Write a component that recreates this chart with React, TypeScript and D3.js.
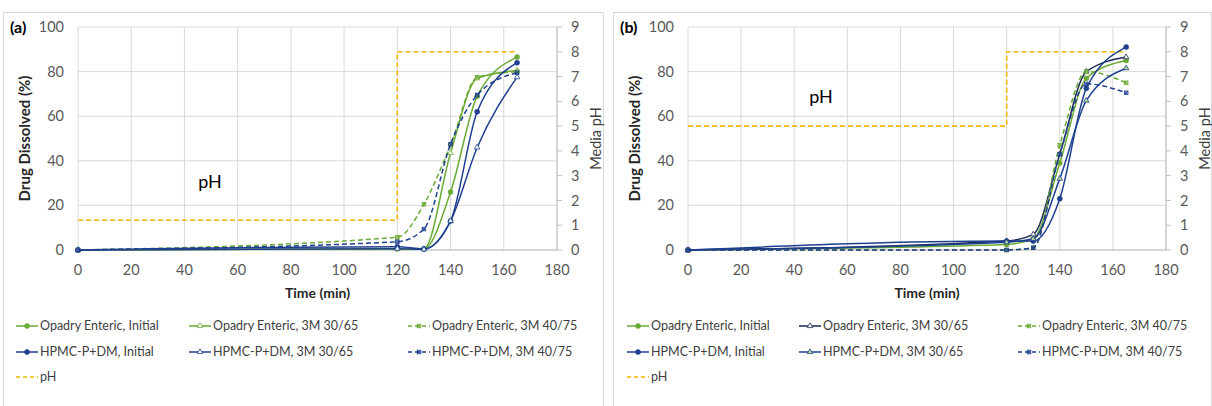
import React from "react";
import * as d3 from "d3";

// ---------- data ----------
const times = [0, 120, 130, 140, 150, 165];
const xTicks = [0, 20, 40, 60, 80, 100, 120, 140, 160, 180];
const yTicks = [0, 20, 40, 60, 80, 100];
const phTicks = [0, 1, 2, 3, 4, 5, 6, 7, 8, 9];

const seriesLabels = [
  "Opadry Enteric, Initial",
  "Opadry Enteric, 3M 30/65",
  "Opadry Enteric, 3M 40/75",
  "HPMC-P+DM, Initial",
  "HPMC-P+DM, 3M 30/65",
  "HPMC-P+DM, 3M 40/75",
];

// Panel (a)
const aOpadryInitial = [0, 0.5, 0.5, 26, 69, 86.5];
const aOpadry3065 = [0, 0.5, 0.5, 43.5, 77, 80.5];
const aOpadry4075 = [0, 5.7, 20.5, 47, 77.5, 80];
const aHpmcInitial = [0, 1.5, 0.5, 13, 62, 84];
const aHpmc3065 = [0, 0.6, 0.3, 13, 46, 77.5];
const aHpmc4075 = [0, 3.7, 9.4, 47.5, 69.5, 79.5];
const phTimes = [0, 120, 120, 165];
const aPh = [1.2, 1.2, 8, 8];

// Panel (b)
const bOpadryInitial = [0, 2.5, 5, 39, 77, 85];
const bOpadry3065 = [0, 4, 7, 43, 80, 86.5];
const bOpadry4075 = [0, 0, 1, 47, 80, 75];
const bHpmcInitial = [0, 4, 4, 23, 72.5, 91];
const bHpmc3065 = [0, 3.5, 5, 32, 67, 81.5];
const bHpmc4075 = [0, 0, 1, 43, 74.5, 70.5];
const bPh = [5, 5, 8, 8];

// ---------- styles ----------
const GREEN = "#6BAA35";
const BLUE = "#1F3F8F";
const NAVY = "#1B2A55";
const GOLD = "#F2B705";
const GRID = "#D9D9D9";
const TXT = "#595959";
const FONT = "Lato, 'Open Sans', sans-serif";

type MarkerKind = "dot" | "tri" | "x";
interface SeriesStyle {
  color: string;
  dashed: boolean;
  marker: MarkerKind;
  markerFill: string;
}

const stylesA: SeriesStyle[] = [
  { color: GREEN, dashed: false, marker: "dot", markerFill: GREEN },
  { color: GREEN, dashed: false, marker: "tri", markerFill: "#fff" },
  { color: GREEN, dashed: true, marker: "x", markerFill: GREEN },
  { color: BLUE, dashed: false, marker: "dot", markerFill: BLUE },
  { color: BLUE, dashed: false, marker: "tri", markerFill: "#fff" },
  { color: BLUE, dashed: true, marker: "x", markerFill: BLUE },
];
const stylesB: SeriesStyle[] = [
  { color: GREEN, dashed: false, marker: "dot", markerFill: GREEN },
  { color: NAVY, dashed: false, marker: "tri", markerFill: "#fff" },
  { color: GREEN, dashed: true, marker: "x", markerFill: GREEN },
  { color: BLUE, dashed: false, marker: "dot", markerFill: BLUE },
  { color: BLUE, dashed: false, marker: "tri", markerFill: "#B7D99A" },
  { color: BLUE, dashed: true, marker: "x", markerFill: BLUE },
];

function Marker({ kind, x, y, color, fill }: { kind: MarkerKind; x: number; y: number; color: string; fill: string }) {
  if (kind === "dot") return <circle cx={x} cy={y} r={2.5} fill={fill} stroke={color} strokeWidth={0.6} />;
  if (kind === "tri") {
    const p = d3.symbol(d3.symbolTriangle, 13)();
    return <path d={p || ""} transform={`translate(${x},${y})`} fill={fill} stroke={color} strokeWidth={0.8} />;
  }
  return (
    <g transform={`translate(${x},${y})`}>
      <rect x={-1.8} y={-1.8} width={3.6} height={3.6} fill={fill} fillOpacity={0.35} stroke={color} strokeWidth={0.8} />
      <path d="M-1.8,-1.8L1.8,1.8M-1.8,1.8L1.8,-1.8" stroke={color} strokeWidth={0.8} />
    </g>
  );
}

interface PanelProps {
  tag: string;
  boxX: number;
  boxW: number;
  plotL: number;
  plotR: number;
  data: number[][];
  ph: number[];
  styles: SeriesStyle[];
  phLabel: [number, number];
  legendCols: number[];
}

const plotT = 27;
const plotB = 250;

function Panel(p: PanelProps) {
  const x = d3.scaleLinear().domain([0, 180]).range([p.plotL, p.plotR]);
  const y = d3.scaleLinear().domain([0, 100]).range([plotB, plotT]);
  const yPh = d3.scaleLinear().domain([0, 9]).range([plotB, plotT]);
  const line = d3
    .line<number>()
    .x((_, i) => x(times[i]))
    .y((v) => y(v))
    .curve(d3.curveMonotoneX);
  const phLine = d3
    .line<number>()
    .x((_, i) => x(phTimes[i]))
    .y((v) => yPh(v));
  const cx = (p.plotL + p.plotR) / 2;
  const cy = (plotT + plotB) / 2;
  const rowY = [326, 352, 377];

  return (
    <g fontFamily={FONT}>
      <rect x={p.boxX + 0.5} y={12.5} width={p.boxW} height={410} fill="#fff" stroke={GRID} strokeWidth={1} />
      {/* grid */}
      {xTicks.map((t) => (
        <line key={"gx" + t} x1={x(t)} x2={x(t)} y1={plotT} y2={plotB} stroke={GRID} strokeWidth={1} />
      ))}
      {yTicks.map((t) => (
        <line key={"gy" + t} x1={p.plotL} x2={p.plotR} y1={y(t)} y2={y(t)} stroke={GRID} strokeWidth={1} />
      ))}
      {/* axes */}
      <line x1={p.plotL} x2={p.plotR} y1={plotB} y2={plotB} stroke="#BFBFBF" />
      <line x1={p.plotR} x2={p.plotR} y1={plotT} y2={plotB} stroke="#BFBFBF" />
      {phTicks.map((t) => (
        <line key={"pt" + t} x1={p.plotR} x2={p.plotR + 5} y1={yPh(t)} y2={yPh(t)} stroke="#BFBFBF" />
      ))}
      {/* tick labels */}
      {yTicks.map((t) => (
        <text key={"yl" + t} x={p.plotL - 14} y={y(t)} dy="0.35em" textAnchor="end" fontSize={14.5} fill={TXT}>
          {t}
        </text>
      ))}
      {phTicks.map((t) => (
        <text key={"pl" + t} x={p.plotR + 14} y={yPh(t)} dy="0.35em" textAnchor="start" fontSize={14.5} fill={TXT}>
          {t}
        </text>
      ))}
      {xTicks.map((t) => (
        <text key={"xl" + t} x={x(t)} y={plotB + 20} dy="0.35em" textAnchor="middle" fontSize={14.5} fill={TXT}>
          {t}
        </text>
      ))}
      {/* titles */}
      <text x={p.boxX + 7} y={33} fontSize={16} fontWeight="bold" fill="#000">
        {p.tag}
      </text>
      <text
        transform={`translate(${p.boxX + 27},${cy}) rotate(-90)`}
        textAnchor="middle"
        fontSize={15}
        fontWeight="bold"
        fill="#262626"
      >
        Drug Dissolved (%)
      </text>
      <text
        transform={`translate(${p.plotR + 39},${cy}) rotate(-90)`}
        textAnchor="middle"
        dy="0.35em"
        fontSize={14.5}
        fill="#404040"
      >
        Media pH
      </text>
      <text x={cx} y={298} textAnchor="middle" fontSize={14} fontWeight="bold" fill="#262626">
        Time (min)
      </text>
      <text x={p.phLabel[0]} y={p.phLabel[1]} textAnchor="middle" dy="0.35em" fontSize={18} fill="#000">
        pH
      </text>
      {/* pH line */}
      <path d={phLine(p.ph) || ""} fill="none" stroke={GOLD} strokeWidth={1.6} strokeDasharray="5,3" />
      {/* series */}
      {p.data.map((vals, si) => {
        const s = p.styles[si];
        return (
          <g key={"s" + si}>
            <path
              d={line(vals) || ""}
              fill="none"
              stroke={s.color}
              strokeWidth={1.5}
              strokeDasharray={s.dashed ? "5,3" : undefined}
            />
            {vals.map((v, i) => (
              <Marker key={i} kind={s.marker} x={x(times[i])} y={y(v)} color={s.color} fill={s.markerFill} />
            ))}
          </g>
        );
      })}
      {/* legend */}
      {seriesLabels.map((lab, i) => {
        const s = p.styles[i];
        const col = p.legendCols[i % 3];
        const ry = rowY[Math.floor(i / 3)];
        return (
          <g key={"lg" + i}>
            <line
              x1={col}
              x2={col + 22}
              y1={ry}
              y2={ry}
              stroke={s.color}
              strokeWidth={1.5}
              strokeDasharray={s.dashed ? "4,3" : undefined}
            />
            <Marker kind={s.marker} x={col + 11} y={ry} color={s.color} fill={s.markerFill} />
            <text x={col + 24} y={ry} dy="0.35em" fontSize={12.5} fill="#404040">
              {lab}
            </text>
          </g>
        );
      })}
      <line
        x1={p.legendCols[0]}
        x2={p.legendCols[0] + 22}
        y1={rowY[2]}
        y2={rowY[2]}
        stroke={GOLD}
        strokeWidth={1.5}
        strokeDasharray="4,3"
      />
      <text x={p.legendCols[0] + 24} y={rowY[2]} dy="0.35em" fontSize={12.5} fill="#404040">
        pH
      </text>
    </g>
  );
}

export default function App() {
  return (
    <svg
      width={1212}
      height={406}
      viewBox="0 0 1212 406"
      style={{ position: "absolute", left: 0, top: 0, background: "#fff" }}
    >
      <Panel
        tag="(a)"
        boxX={3}
        boxW={600}
        plotL={78}
        plotR={557}
        data={[aOpadryInitial, aOpadry3065, aOpadry4075, aHpmcInitial, aHpmc3065, aHpmc4075]}
        ph={aPh}
        styles={stylesA}
        phLabel={[210, 182]}
        legendCols={[16, 189, 408]}
      />
      <Panel
        tag="(b)"
        boxX={613}
        boxW={598}
        plotL={688}
        plotR={1166}
        data={[bOpadryInitial, bOpadry3065, bOpadry4075, bHpmcInitial, bHpmc3065, bHpmc4075]}
        ph={bPh}
        styles={stylesB}
        phLabel={[821, 97]}
        legendCols={[627, 799, 1018]}
      />
    </svg>
  );
}
